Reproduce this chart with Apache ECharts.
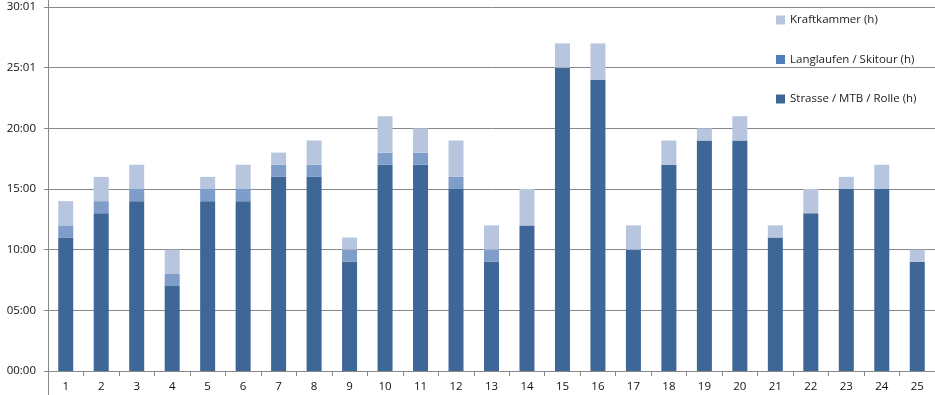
<!DOCTYPE html>
<html><head><meta charset="utf-8">
<script src="https://cdn.jsdelivr.net/npm/echarts@6/dist/echarts.min.js"></script>
<style>html,body{margin:0;padding:0;background:#fff}#c{width:935px;height:395px}</style>
</head><body><div id="c"></div>
<script>
const categories = ['1','2','3','4','5','6','7','8','9','10','11','12','13','14','15','16','17','18','19','20','21','22','23','24','25'];
const strasse = [11,13,14,7,14,14,16,16,9,17,17,15,9,12,25,24,10,17,19,19,11,13,15,15,9];
const langlaufen = [1,1,1,1,1,1,1,1,1,1,1,1,1,0,0,0,0,0,0,0,0,0,0,0,0];
const kraft = [2,2,2,2,1,2,1,2,1,3,2,3,2,3,2,3,2,2,1,2,1,2,1,2,1];
const yTickLabels = ['00:00','05:00','10:00','15:00','20:00','25:01','30:01'];
const names = ['Strasse / MTB / Rolle (h)','Langlaufen / Skitour (h)','Kraftkammer (h)'];

const font = 'Open Sans';
const chart = echarts.init(document.getElementById('c'));
chart.setOption({
  animation:false,
  textStyle:{fontFamily:font},
  grid:{left:48,right:0,top:7,bottom:24,containLabel:false},
  legend:{
    orient:'vertical', left:771, top:9, itemGap:27.5, itemWidth:9, itemHeight:9, icon:'rect',
    textStyle:{fontSize:11.5,color:'#222',fontFamily:font},
    data:[
      {name:names[2],itemStyle:{color:'#b7c5df'}},
      {name:names[1],itemStyle:{color:'#4f7fbb'}},
      {name:names[0],itemStyle:{color:'#3e6697'}}
    ]
  },
  xAxis:{
    type:'category', data:categories,
    axisLine:{lineStyle:{color:'#888'}},
    axisTick:{show:true,alignWithLabel:false,length:5,lineStyle:{color:'#888'}},
    axisLabel:{color:'#111',fontSize:11.5,margin:10}
  },
  yAxis:{
    type:'value', min:0, max:30, interval:5,
    axisLine:{show:true,lineStyle:{color:'#888'}},
    axisTick:{show:true,length:4,lineStyle:{color:'#888'}},
    splitLine:{lineStyle:{color:'#888'}},
    axisLabel:{color:'#111',fontSize:11.5,margin:12,formatter:v=>yTickLabels[Math.round(v/5)]}
  },
  graphic:[
    {type:'line',shape:{x1:48.5,y1:0,x2:48.5,y2:395},style:{stroke:'#888',lineWidth:1},silent:true}
  ],
  series:[
    {name:names[0],type:'bar',stack:'t',data:strasse,barWidth:15,itemStyle:{color:'#3e6697'}},
    {name:names[1],type:'bar',stack:'t',data:langlaufen,itemStyle:{color:'#7f9dc9'}},
    {name:names[2],type:'bar',stack:'t',data:kraft,itemStyle:{color:'#b7c5df'}}
  ]
});
</script></body></html>
